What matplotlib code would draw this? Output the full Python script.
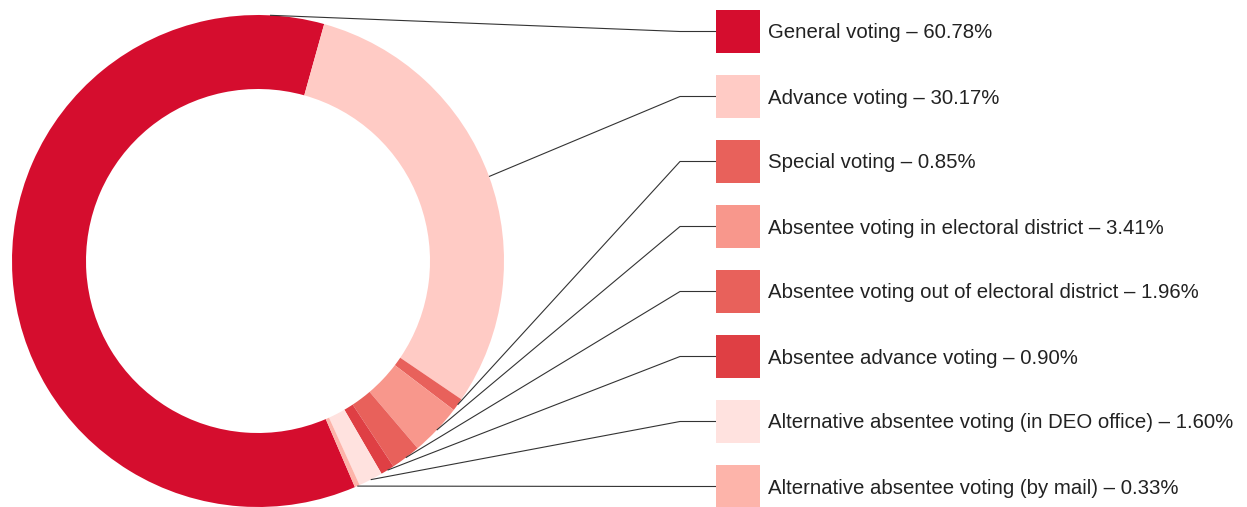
import numpy as np
import matplotlib
matplotlib.use("Agg")
import matplotlib.pyplot as plt
from matplotlib.patches import Rectangle

plt.rcParams["font.family"] = ["Liberation Sans", "DejaVu Sans"]

# voting channels, in legend order
labels = [
    "General voting",
    "Advance voting",
    "Special voting",
    "Absentee voting in electoral district",
    "Absentee voting out of electoral district",
    "Absentee advance voting",
    "Alternative absentee voting (in DEO office)",
    "Alternative absentee voting (by mail)",
]
shares = [60.78, 30.17, 0.85, 3.41, 1.96, 0.90, 1.60, 0.33]
colors = ["#d50d2e", "#ffcbc5", "#e8615b", "#f8978c", "#e8615b", "#df3f44", "#ffe2df", "#fdb4aa"]

W, H = 1247, 507
fig = plt.figure(figsize=(W / 100, H / 100), dpi=100)
ax = fig.add_axes([0, 0, 1, 1])

cx, cy, R, ring = 258, 246, 246, 74
# general voting starts 156.8 deg clockwise from the top
start = 90 - 156.8
wedges, _ = ax.pie(shares, colors=colors, startangle=start, counterclock=False,
                   radius=R, center=(cx, cy), frame=True,
                   wedgeprops=dict(width=ring, linewidth=0))

ax.set_xlim(0, W)
ax.set_ylim(0, H)
ax.set_aspect("equal")
ax.axis("off")

sw_x, sw_w, sw_h = 716, 44, 43
elbow_x = 680
row0, row_gap = H - 31.5, 65

for i, (w, lab, val, col) in enumerate(zip(wedges, labels, shares, colors)):
    ry = row0 - i * row_gap
    if i == 0:
        ang = np.deg2rad(87.2)  # general voting line leaves near the top
    else:
        ang = np.deg2rad((w.theta1 + w.theta2) / 2)
    px, py = cx + R * np.cos(ang), cy + R * np.sin(ang)
    ax.plot([px, elbow_x, sw_x], [py, ry, ry], color="#333333", lw=0.8,
            solid_capstyle="butt", zorder=1)
    ax.add_patch(Rectangle((sw_x, ry - sw_h / 2), sw_w, sw_h, facecolor=col,
                           edgecolor="none", zorder=2))
    ax.text(sw_x + sw_w + 8, ry - 1.5, f"{lab} – {val:.2f}%", fontsize=14.7,
            color="#222222", va="center", ha="left")

fig.savefig("out.png", dpi=100)
